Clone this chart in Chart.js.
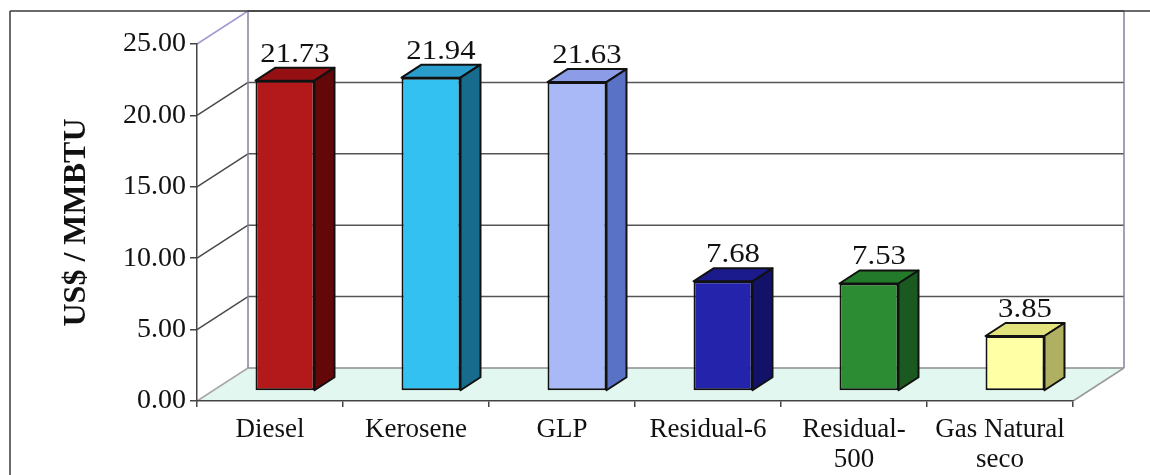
<!DOCTYPE html>
<html>
<head>
<meta charset="utf-8">
<script src="https://cdn.jsdelivr.net/npm/chart.js@4/dist/chart.umd.min.js"></script>
<style>
  html, body { margin: 0; padding: 0; background: #fff; }
  #wrap { width: 1150px; height: 475px; position: relative; }
</style>
</head>
<body>
<div id="wrap"><canvas id="c"></canvas></div>
<script>
// Fuel prices per million BTU
const categories = ['Diesel', 'Kerosene', 'GLP', 'Residual-6', ['Residual-', '500'], ['Gas Natural', 'seco']];
const prices = [21.73, 21.94, 21.63, 7.68, 7.53, 3.85];
const axisMin = 0;
const axisMax = 25;
const axisStep = 5;
const axisTitle = 'US$ / MMBTU';

// face colours of each box: front, top, right side
const frontColors = ['#b3191b', '#33c1f2', '#a9b9f8', '#2323ab', '#2b8c33', '#ffffa6'];
const topColors   = ['#951012', '#2a9dcc', '#8c9ce6', '#1b1b8e', '#237a2a', '#e3e37e'];
const sideColors  = ['#640708', '#176b8c', '#5a72c6', '#121268', '#1a5a20', '#b0b062'];

const SERIF = '"Liberation Serif", "Times New Roman", serif';

// oblique projection offsets used for the 3D look
const WALL = { dx: 51, dy: -33 };       // back wall relative to the front axis plane
const BAR_SHIFT = { dx: 15, dy: -10 };  // front face of the boxes
const BAR_DEPTH = { dx: 20, dy: -13 };  // thickness of each box

function seg(ctx, x1, y1, x2, y2) {
  ctx.beginPath();
  ctx.moveTo(x1, y1);
  ctx.lineTo(x2, y2);
  ctx.stroke();
}

const box3d = {
  id: 'box3d',
  beforeDraw(chart) {
    const { ctx, chartArea: a, scales: { y } } = chart;
    ctx.save();
    ctx.fillStyle = '#ffffff';
    ctx.fillRect(0, 0, chart.width, chart.height);

    const y0 = y.getPixelForValue(axisMin);
    const yTop = y.getPixelForValue(axisMax);

    // floor
    ctx.fillStyle = '#e2f7ef';
    ctx.beginPath();
    ctx.moveTo(a.left, y0);
    ctx.lineTo(a.right, y0);
    ctx.lineTo(a.right + WALL.dx, y0 + WALL.dy);
    ctx.lineTo(a.left + WALL.dx, y0 + WALL.dy);
    ctx.closePath();
    ctx.fill();

    // gridlines on the back wall and the diagonals on the side wall
    ctx.lineWidth = 1.5;
    y.ticks.forEach((t) => {
      const py = y.getPixelForValue(t.value);
      ctx.strokeStyle = t.value === axisMin ? '#8e8e8e' : '#555555';
      seg(ctx, a.left + WALL.dx, py + WALL.dy, a.right + WALL.dx, py + WALL.dy);
      if (t.value === axisMax) ctx.strokeStyle = '#a39ad2';
      else if (t.value === axisMin) ctx.strokeStyle = '#a8a8a8';
      else ctx.strokeStyle = '#4a4a4a';
      seg(ctx, a.left, py, a.left + WALL.dx, py + WALL.dy);
    });

    // back wall corners
    ctx.strokeStyle = '#8c7f98';
    seg(ctx, a.left + WALL.dx, yTop + WALL.dy, a.left + WALL.dx, y0 + WALL.dy);
    seg(ctx, a.right + WALL.dx, yTop + WALL.dy, a.right + WALL.dx, y0 + WALL.dy);
    ctx.strokeStyle = '#9a9a9a';
    seg(ctx, a.right, y0, a.right + WALL.dx, y0 + WALL.dy);

    // outer frame
    ctx.strokeStyle = '#3a3a3a';
    ctx.lineWidth = 1.5;
    seg(ctx, 10, yTop + WALL.dy, chart.width, yTop + WALL.dy);
    seg(ctx, 10, yTop + WALL.dy, 10, chart.height);
    ctx.restore();
  },
  beforeDatasetsDraw(chart) {
    chart.ctx.save();
    chart.ctx.translate(BAR_SHIFT.dx, BAR_SHIFT.dy);
  },
  afterDatasetsDraw(chart) {
    const ctx = chart.ctx;
    const bars = chart.getDatasetMeta(0).data;
    ctx.lineWidth = 2;
    ctx.lineJoin = 'round';
    ctx.strokeStyle = '#111111';
    bars.forEach((el, i) => {
      const { x, y, base, width } = el.getProps(['x', 'y', 'base', 'width'], true);
      const l = x - width / 2;
      const r = x + width / 2;
      // top face
      ctx.fillStyle = topColors[i];
      ctx.beginPath();
      ctx.moveTo(l, y);
      ctx.lineTo(l + BAR_DEPTH.dx, y + BAR_DEPTH.dy);
      ctx.lineTo(r + BAR_DEPTH.dx, y + BAR_DEPTH.dy);
      ctx.lineTo(r, y);
      ctx.closePath();
      ctx.fill();
      ctx.stroke();
      // right side face
      ctx.fillStyle = sideColors[i];
      ctx.beginPath();
      ctx.moveTo(r, y);
      ctx.lineTo(r + BAR_DEPTH.dx, y + BAR_DEPTH.dy);
      ctx.lineTo(r + BAR_DEPTH.dx, base + BAR_DEPTH.dy);
      ctx.lineTo(r, base);
      ctx.closePath();
      ctx.fill();
      ctx.stroke();
    });
    ctx.restore();

    // value labels above each box
    ctx.save();
    ctx.fillStyle = '#111111';
    ctx.font = '28px ' + SERIF;
    ctx.textAlign = 'center';
    ctx.textBaseline = 'alphabetic';
    bars.forEach((el, i) => {
      const { x, y } = el.getProps(['x', 'y'], true);
      const lx = x + BAR_SHIFT.dx + BAR_DEPTH.dx / 2;
      const ly = y + BAR_SHIFT.dy + BAR_DEPTH.dy - 6;
      ctx.save();
      ctx.translate(lx, ly);
      ctx.scale(1.1, 1);
      ctx.fillText(prices[i].toFixed(2), 0, 0);
      ctx.restore();
    });
    ctx.restore();
  }
};

new Chart(document.getElementById('c'), {
  type: 'bar',
  data: {
    labels: categories,
    datasets: [{
      data: prices,
      backgroundColor: frontColors,
      borderColor: '#111111',
      borderWidth: 2,
      borderSkipped: false,
      barPercentage: 0.404,
      categoryPercentage: 1,
      clip: false
    }]
  },
  options: {
    responsive: true,
    maintainAspectRatio: false,
    animation: false,
    layout: { padding: { top: 44, right: 77, bottom: 0, left: 0 } },
    plugins: { legend: { display: false }, tooltip: { enabled: false } },
    scales: {
      x: {
        grid: { drawOnChartArea: false, offset: true, tickLength: 6, color: '#444444', lineWidth: 1.5 },
        border: { display: true, color: '#444444', width: 1.5 },
        ticks: {
          font: { family: SERIF, size: 27, lineHeight: 1.1 },
          color: '#111111', padding: 8, maxRotation: 0, autoSkip: false
        },
        afterFit(s) { s.height = 74; }
      },
      y: {
        min: axisMin,
        max: axisMax,
        ticks: {
          stepSize: axisStep,
          callback: (v) => Number(v).toFixed(2),
          font: { family: SERIF, size: 28 },
          color: '#111111',
          padding: 4
        },
        grid: { drawOnChartArea: false, tickLength: 7, color: '#444444', lineWidth: 1.5 },
        border: { display: true, color: '#444444', width: 1.5 },
        title: {
          display: true,
          text: axisTitle,
          font: { family: SERIF, size: 32, weight: 'bold' },
          color: '#111111',
          padding: { top: 58, bottom: 0 }
        },
        afterFit(s) { s.width = 197; }
      }
    }
  },
  plugins: [box3d]
});
</script>
</body>
</html>
